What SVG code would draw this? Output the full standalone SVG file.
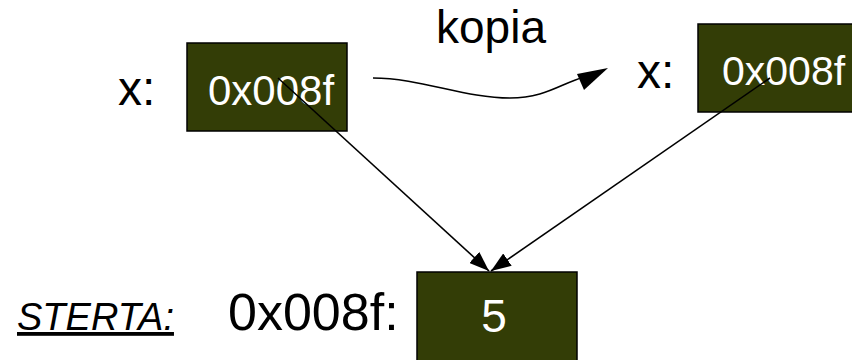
<svg xmlns="http://www.w3.org/2000/svg" width="852" height="360" viewBox="0 0 852 360">
  <defs>
    <style>
      .cell { fill: #333d06; stroke: #000; stroke-width: 1.5; }
      .lbl { font-family: "Liberation Sans", Arial, sans-serif; fill: #000; }
      .val { font-family: "Liberation Sans", Arial, sans-serif; fill: #fff; }
      .ptr { fill: none; stroke: #000; stroke-width: 1.6; }
    </style>
    <marker id="head" viewBox="0 0 10 10" refX="10" refY="5" markerWidth="20" markerHeight="15" markerUnits="userSpaceOnUse" orient="auto" preserveAspectRatio="none">
      <path d="M0,0 L10,5 L0,10 Z" fill="#000"/>
    </marker>
  </defs>

  <rect width="852" height="360" fill="#fff"/>

  <!-- original variable -->
  <g id="var-x">
    <text class="lbl" x="118" y="105" font-size="48">x:</text>
    <rect class="cell" x="187" y="43" width="160" height="88"/>
    <text class="val" x="208" y="105" font-size="42">0x008f</text>
  </g>

  <!-- copied variable -->
  <g id="var-x-copy">
    <text class="lbl" x="637" y="88" font-size="48">x:</text>
    <rect class="cell" x="698" y="24" width="160" height="88"/>
    <text class="val" x="722" y="85" font-size="41">0x008f</text>
  </g>

  <!-- heap cell -->
  <g id="heap">
    <text class="lbl" x="17" y="330" font-size="38" font-style="italic" text-decoration="underline">STERTA:</text>
    <text class="lbl" x="228" y="330" font-size="52">0x008f:</text>
    <rect class="cell" x="417" y="272" width="160" height="92"/>
    <text class="val" x="494" y="332" font-size="46" text-anchor="middle">5</text>
  </g>

  <g id="copy-label">
    <text class="lbl" x="436" y="43" font-size="46">kopia</text>
  </g>

  <!-- connectors -->
  <g id="connectors">
    <path class="ptr" d="M373,78 C420,78 465,98 510,98 C545,98 560,84 584,77" />
    <path d="M608,68 L577,74 L584,90 Z" fill="#000"/>
    <line class="ptr" x1="278" y1="78" x2="489" y2="271" marker-end="url(#head)"/>
    <line class="ptr" x1="770" y1="78" x2="491" y2="271" marker-end="url(#head)"/>
  </g>
</svg>
